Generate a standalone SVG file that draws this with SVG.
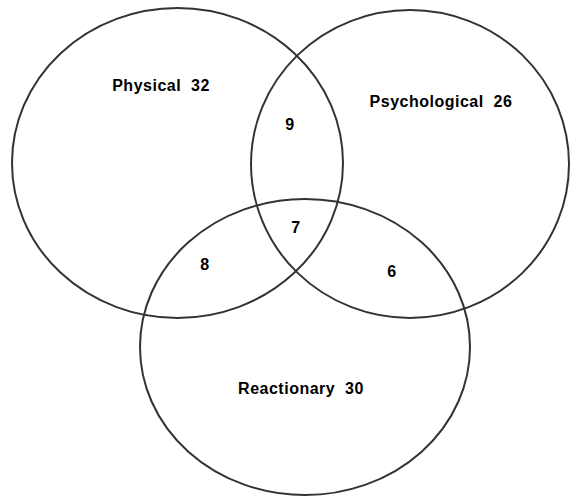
<svg xmlns="http://www.w3.org/2000/svg" width="570" height="497" viewBox="0 0 570 497">
<style>
.c{fill:none;stroke:#333;stroke-width:2}
.t{font-family:"Liberation Sans",Arial,sans-serif;font-weight:bold;font-size:16px;letter-spacing:0.5px;fill:#000;text-anchor:middle;white-space:pre}
</style>
<rect width="570" height="497" fill="#fff"/>
<g id="physical"><ellipse class="c" cx="177.5" cy="163" rx="165.5" ry="155"/><text class="t" x="161" y="91" xml:space="preserve">Physical  32</text></g>
<g id="psychological"><ellipse class="c" cx="410" cy="164" rx="159" ry="154"/><text class="t" x="441" y="107" xml:space="preserve">Psychological  26</text></g>
<g id="reactionary"><ellipse class="c" cx="305" cy="347" rx="165" ry="148"/><text class="t" x="301" y="394" xml:space="preserve">Reactionary  30</text></g>
<g id="regions">
<text class="t" x="290" y="130">9</text>
<text class="t" x="296" y="233">7</text>
<text class="t" x="205" y="270">8</text>
<text class="t" x="392" y="277">6</text>
</g>
<g id="connectors"/>
</svg>
